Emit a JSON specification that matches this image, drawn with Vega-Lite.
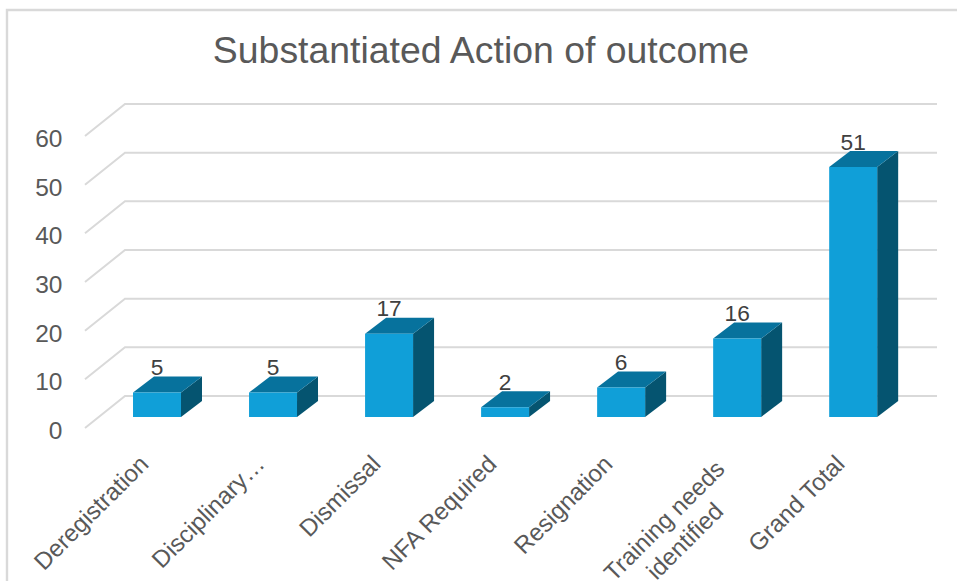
{
  "$schema": "https://vega.github.io/schema/vega-lite/v6.json",
  "width": 812,
  "height": 292,
  "autosize": {"type": "none"},
  "padding": {"left": 125, "top": 104, "right": 20, "bottom": 185},
  "background": "#ffffff",
  "title": {
    "text": "Substantiated Action of outcome",
    "anchor": "middle",
    "dx": -50,
    "offset": 0,
    "dy": 65,
    "font": "Liberation Sans",
    "fontSize": 37.4,
    "fontWeight": "normal",
    "color": "#595959"
  },
  "datasets": {
    "outcomes": [
      {"category": "Deregistration", "value": 5},
      {"category": "Disciplinary…", "value": 5},
      {"category": "Dismissal", "value": 17},
      {"category": "NFA Required", "value": 2},
      {"category": "Resignation", "value": 6},
      {"category": "Training needs identified", "value": 16},
      {"category": "Grand Total", "value": 51}
    ],
    "levels": [
      {"level": 0}, {"level": 10}, {"level": 20}, {"level": 30},
      {"level": 40}, {"level": 50}, {"level": 60}
    ]
  },
  "config": {"view": {"stroke": null}},
  "encoding": {
    "x": {
      "type": "nominal",
      "scale": {
        "type": "band",
        "domain": ["Deregistration", "Disciplinary…", "Dismissal", "NFA Required", "Resignation", "Training needs identified", "Grand Total"],
        "range": [-26, 786.2],
        "paddingInner": 0,
        "paddingOuter": 0
      }
    }
  },
  "layer": [
    {
      "description": "Outer border of the chart",
      "data": {"values": [{"ox": 1000, "level": 79.3, "step": 0}, {"ox": -92, "level": 79.3, "step": 1}, {"ox": -92, "level": -45, "step": 2}]},
      "mark": {"type": "line", "stroke": "#d9d9d9", "strokeWidth": 2.4, "clip": false},
      "encoding": {
        "x": {"datum": "Deregistration", "type": "nominal"},
        "xOffset": {"field": "ox", "type": "quantitative", "scale": {"domain": [-2000, 2000], "range": [-2000, 2000]}},
        "y": {"field": "level", "type": "quantitative", "scale": {"domain": [0, 60], "range": [292, 0], "nice": false}},
        "order": {"field": "step"}
      }
    },
    {
      "description": "Gridlines: a diagonal along the side wall, then straight across the rear wall",
      "data": {"name": "levels"},
      "transform": [
        {"calculate": "[-14, 26, 838]", "as": "ox"},
        {"calculate": "[0, 1, 2]", "as": "step"},
        {"flatten": ["ox", "step"]},
        {"calculate": "datum.level + (datum.step == 0 ? -6.575 : 0)", "as": "pos"}
      ],
      "mark": {"type": "line", "stroke": "#d9d9d9", "strokeWidth": 2, "clip": false},
      "encoding": {
        "x": {"datum": "Deregistration", "type": "nominal"},
        "xOffset": {"field": "ox", "type": "quantitative", "scale": {"domain": [-2000, 2000], "range": [-2000, 2000]}},
        "y": {"field": "pos", "type": "quantitative"},
        "detail": {"field": "level"},
        "order": {"field": "step"}
      }
    },
    {
      "description": "Value axis",
      "data": {"name": "levels"},
      "mark": {"type": "point", "opacity": 0},
      "encoding": {
        "x": {"datum": "Deregistration", "type": "nominal"},
        "y": {
          "field": "level",
          "type": "quantitative",
          "axis": {
            "values": [0, 10, 20, 30, 40, 50, 60],
            "domain": false,
            "ticks": false,
            "grid": false,
            "labelOffset": 35.5,
            "labelPadding": 63,
            "labelFont": "Liberation Sans",
            "labelFontSize": 24.5,
            "labelColor": "#595959",
            "title": null
          }
        }
      }
    },
    {
      "description": "Right side face of each column",
      "data": {"name": "outcomes"},
      "transform": [
        {"calculate": "[82, 103, 103, 82]", "as": "ox"},
        {"calculate": "[0, 1, 2, 3]", "as": "step"},
        {"flatten": ["ox", "step"]},
        {"calculate": "(datum.ox > 82 ? 3.288 : 0) + (datum.step < 2 ? -4.315 : -4.315 + datum.value * 1.007)", "as": "pos"}
      ],
      "mark": {"type": "line", "filled": true, "fill": "#055470", "stroke": null, "clip": false},
      "encoding": {
        "x": {"field": "category", "type": "nominal"},
        "xOffset": {"field": "ox", "type": "quantitative", "scale": {"domain": [-2000, 2000], "range": [-2000, 2000]}},
        "y": {"field": "pos", "type": "quantitative"},
        "detail": {"field": "category"},
        "order": {"field": "step"}
      }
    },
    {
      "description": "Top face of each column",
      "data": {"name": "outcomes"},
      "transform": [
        {"calculate": "[34, 55, 103, 82]", "as": "ox"},
        {"calculate": "[0, 1, 2, 3]", "as": "step"},
        {"flatten": ["ox", "step"]},
        {"calculate": "-4.315 + datum.value * 1.007 + (datum.step == 1 || datum.step == 2 ? 3.288 : 0)", "as": "pos"}
      ],
      "mark": {"type": "line", "filled": true, "fill": "#07729d", "stroke": null, "clip": false},
      "encoding": {
        "x": {"field": "category", "type": "nominal"},
        "xOffset": {"field": "ox", "type": "quantitative", "scale": {"domain": [-2000, 2000], "range": [-2000, 2000]}},
        "y": {"field": "pos", "type": "quantitative"},
        "detail": {"field": "category"},
        "order": {"field": "step"}
      }
    },
    {
      "description": "Front face of each column and the category axis",
      "data": {"name": "outcomes"},
      "transform": [
        {"calculate": "-4.315", "as": "base"},
        {"calculate": "datum.base + datum.value * 1.007", "as": "front"}
      ],
      "mark": {"type": "bar", "size": 48, "fill": "#109fd8", "clip": false},
      "encoding": {
        "x": {
          "field": "category",
          "type": "nominal",
          "axis": {
            "orient": "bottom",
            "domain": false,
            "ticks": false,
            "labelAngle": -45,
            "labelAlign": {"condition": {"test": "indexof(datum.value, 'Training') == 0", "value": "center"}, "value": "right"},
            "labelBaseline": "middle",
            "labelPadding": {"condition": {"test": "indexof(datum.value, 'Training') == 0", "value": 125}, "value": 64},
            "labelOffset": {"condition": {"test": "indexof(datum.value, 'Training') == 0", "value": -72}, "value": -12},
            "labelOverlap": false,
            "labelLimit": 400,
            "labelFont": "Liberation Sans",
            "labelFontSize": 24.1,
            "labelColor": "#595959",
            "labelLineHeight": 29,
            "labelExpr": "indexof(datum.label, 'Training') == 0 ? ['Training needs', 'identified'] : datum.label",
            "title": null
          }
        },
        "y": {"field": "base", "type": "quantitative"},
        "y2": {"field": "front"}
      }
    },
    {
      "description": "Value printed above each column",
      "data": {"name": "outcomes"},
      "transform": [{"calculate": "-4.315 + datum.value * 1.007 + 3.6", "as": "labelY"}],
      "mark": {"type": "text", "font": "Liberation Sans", "fontSize": 22.7, "fill": "#404040", "baseline": "alphabetic", "align": "center", "dx": 0, "clip": false},
      "encoding": {
        "x": {"field": "category", "type": "nominal"},
        "y": {"field": "labelY", "type": "quantitative"},
        "text": {"field": "value", "type": "quantitative"}
      }
    }
  ]
}
